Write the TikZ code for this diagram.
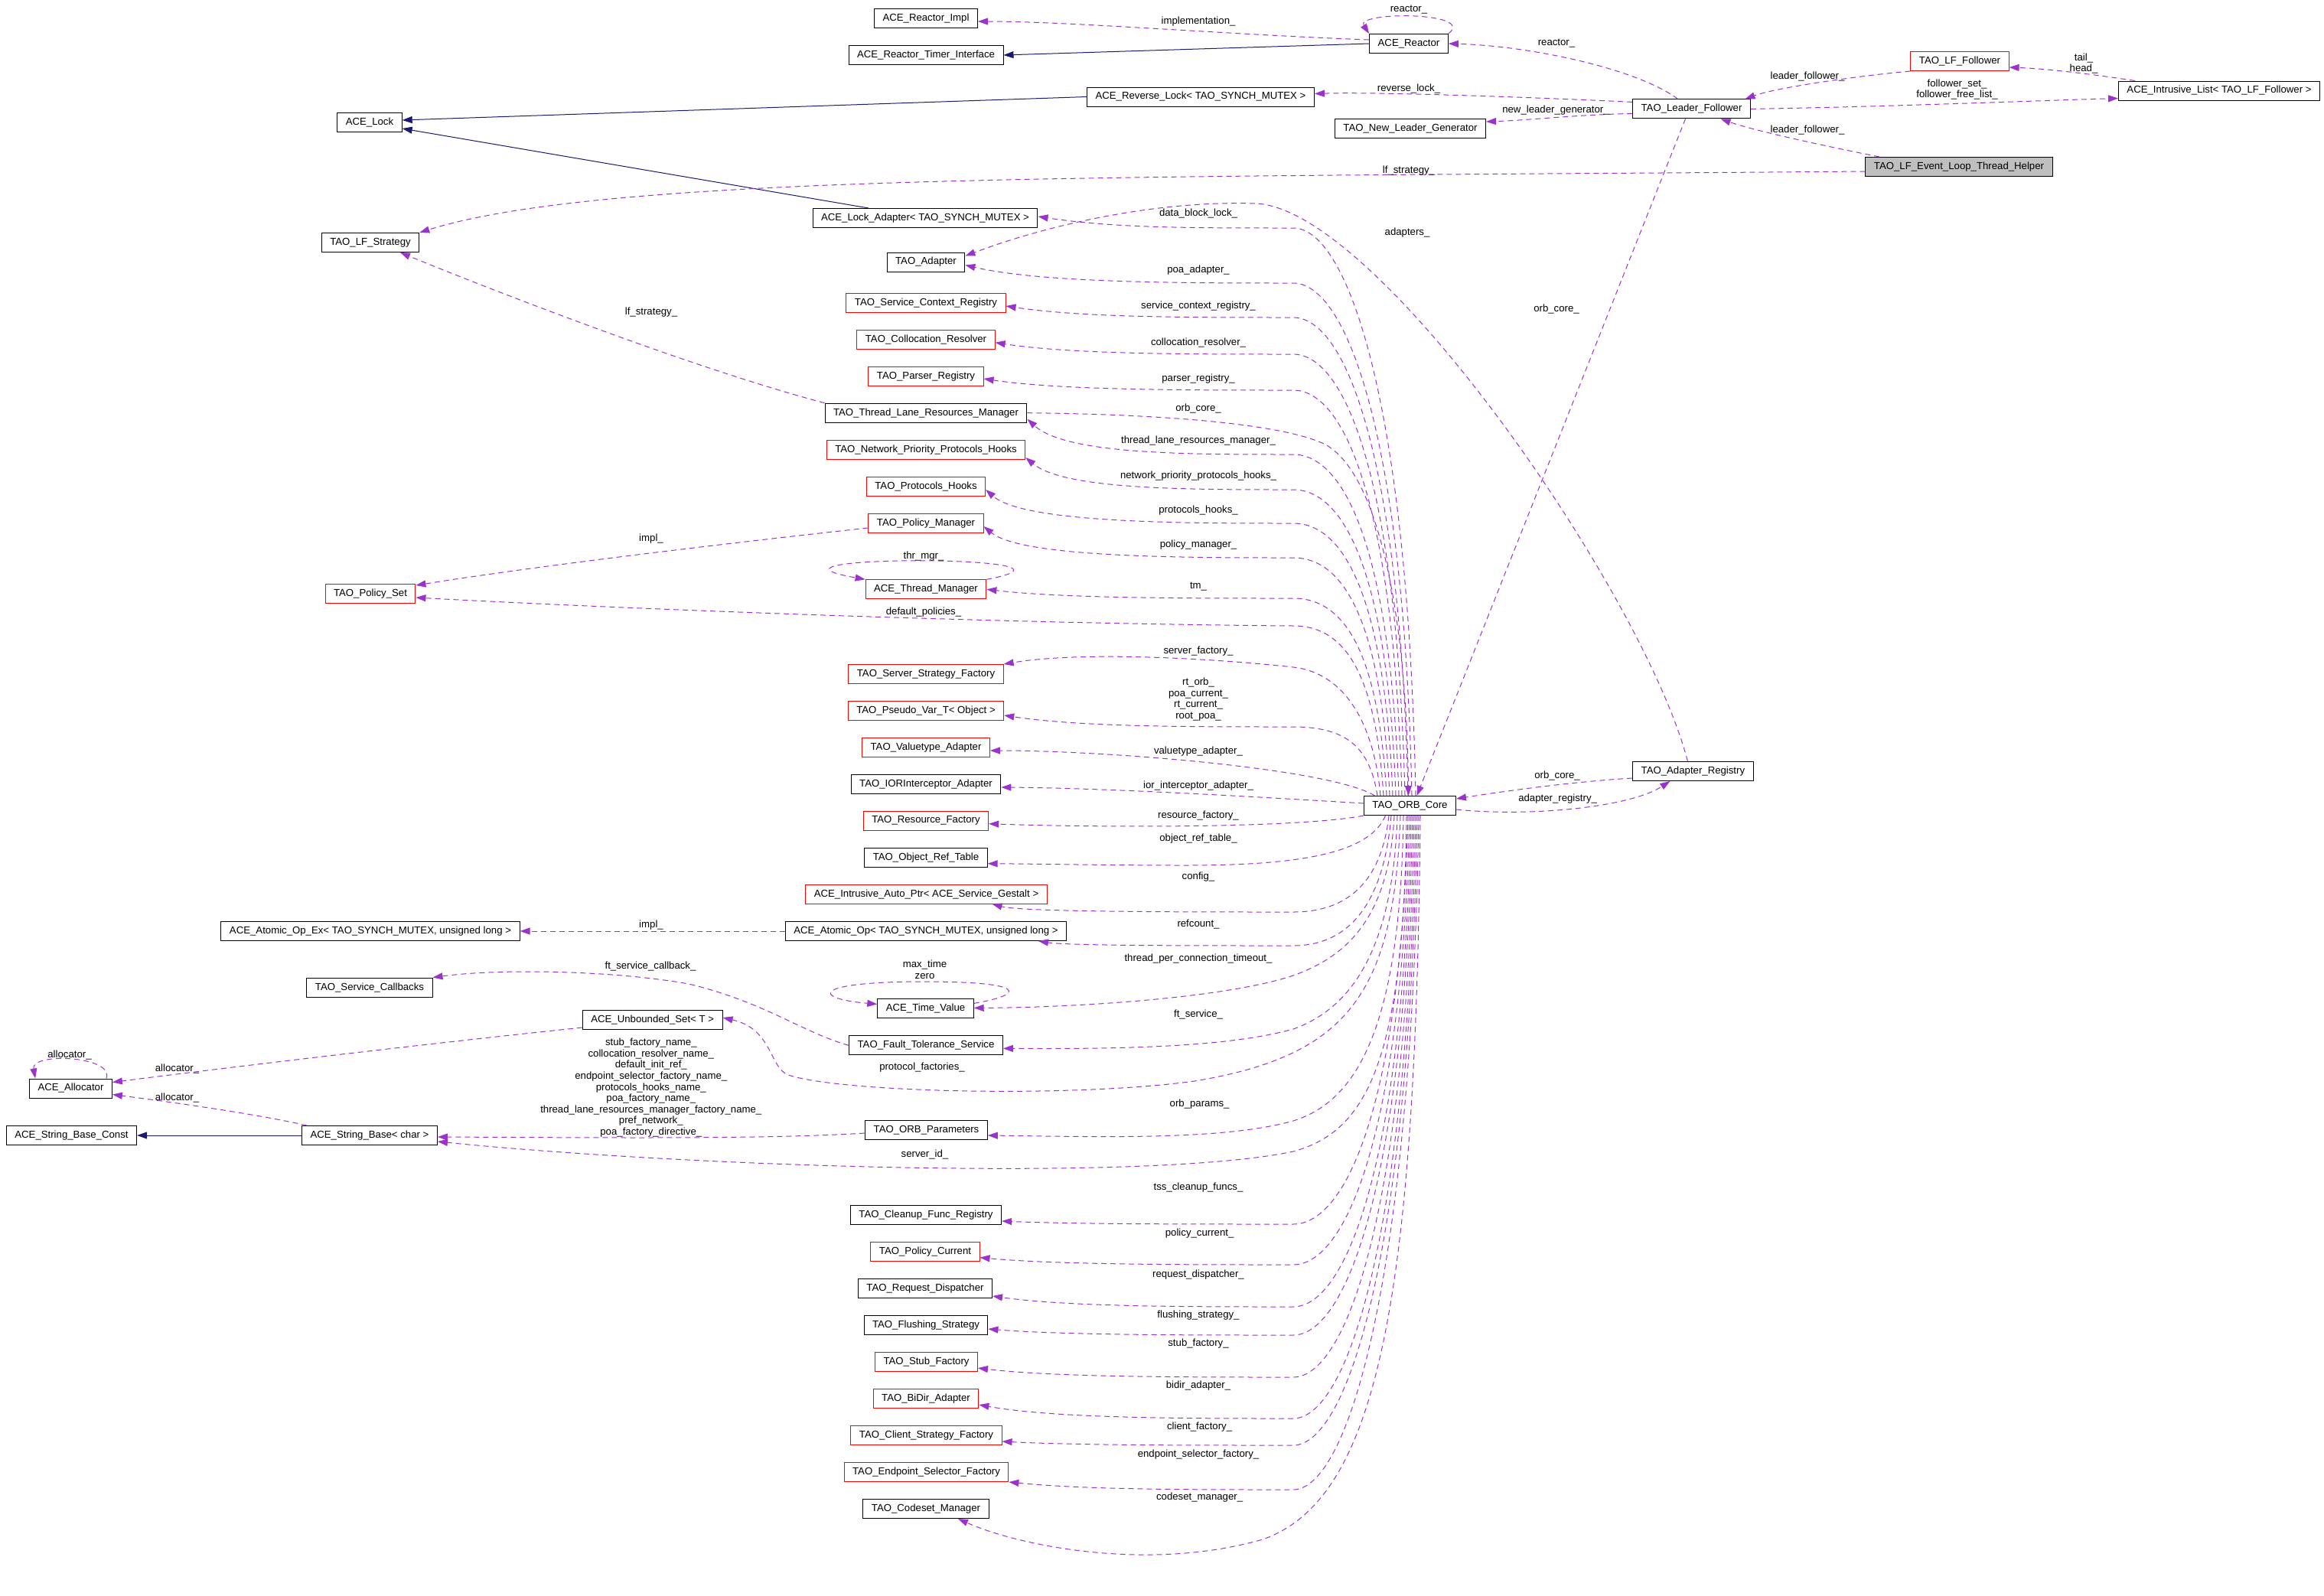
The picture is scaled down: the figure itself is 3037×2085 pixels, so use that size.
\documentclass[tikz,border=0pt]{standalone}
\usepackage{fontspec}
\setmainfont{Liberation Sans}
\usetikzlibrary{arrows.meta,calc,positioning}

\definecolor{edgepurple}{RGB}{154,50,205}
\definecolor{inhblue}{RGB}{25,25,112}
\definecolor{hlgray}{RGB}{191,191,191}
\newcommand{\dgfont}{\fontsize{13.2}{14.6}\selectfont}

\tikzset{
	cls/.style={draw=black, line width=1pt, fill=white, minimum height=25pt, inner xsep=11pt, inner ysep=2pt, font=\dgfont},
	redcls/.style={cls, draw=red},
	hicls/.style={cls, fill=hlgray},
	inh/.style={inhblue, line width=1pt, -{Triangle[length=13pt,width=9pt]}},
	mem/.style={edgepurple, line width=1pt, dash pattern=on 7pt off 5pt, -{Triangle[length=13pt,width=9pt]}},
	lbl/.style={font=\dgfont, inner sep=0pt, align=center}
}

\begin{document}
\begin{tikzpicture}[x=1pt,y=-1pt]
	\useasboundingbox (0,0) rectangle (3037,2085);
	
	% classes
	\node[cls] (reimpl) at (1210,24) {ACE\_Reactor\_Impl};
	\node[cls] (timerif) at (1210,72) {ACE\_Reactor\_Timer\_Interface};
	\node[cls] (reactor) at (1841,57) {ACE\_Reactor};
	\node[cls] (revlock) at (1569,126.5) {ACE\_Reverse\_Lock< TAO\_SYNCH\_MUTEX >};
	\node[cls] (newlead) at (1843,168) {TAO\_New\_Leader\_Generator};
	\node[redcls] (lfollow) at (2561,80) {TAO\_LF\_Follower};
	\node[cls] (ilist) at (2900,118.5) {ACE\_Intrusive\_List< TAO\_LF\_Follower >};
	\node[cls] (leader) at (2210.5,142.4) {TAO\_Leader\_Follower};
	\node[hicls] (helper) at (2560,218) {TAO\_LF\_Event\_Loop\_Thread\_Helper};
	\node[cls] (lock) at (483,160) {ACE\_Lock};
	\node[cls] (lfstrat) at (484,317) {TAO\_LF\_Strategy};
	\node[cls] (lockad) at (1209,285) {ACE\_Lock\_Adapter< TAO\_SYNCH\_MUTEX >};
	\node[cls] (adapter) at (1210,342.5) {TAO\_Adapter};
	\node[redcls] (scr) at (1210,396) {TAO\_Service\_Context\_Registry};
	\node[redcls] (colres) at (1210,443.7) {TAO\_Collocation\_Resolver};
	\node[redcls] (parser) at (1210,492) {TAO\_Parser\_Registry};
	\node[cls] (tlrm) at (1210,539.7) {TAO\_Thread\_Lane\_Resources\_Manager};
	\node[redcls] (nph) at (1210,588) {TAO\_Network\_Priority\_Protocols\_Hooks};
	\node[redcls] (phooks) at (1210,636) {TAO\_Protocols\_Hooks};
	\node[redcls] (polman) at (1210,684) {TAO\_Policy\_Manager};
	\node[redcls] (polset) at (484,776) {TAO\_Policy\_Set};
	\node[redcls] (thrmgr) at (1210,770.3) {ACE\_Thread\_Manager};
	\node[redcls] (ssf) at (1210,881) {TAO\_Server\_Strategy\_Factory};
	\node[redcls] (pseudo) at (1210,929) {TAO\_Pseudo\_Var\_T< Object >};
	\node[redcls] (valad) at (1210,977) {TAO\_Valuetype\_Adapter};
	\node[cls] (iorad) at (1210,1025) {TAO\_IORInterceptor\_Adapter};
	\node[cls] (core) at (1842.5,1053) {TAO\_ORB\_Core};
	\node[cls] (adreg) at (2212.4,1008) {TAO\_Adapter\_Registry};
	\node[redcls] (resfac) at (1210,1072.7) {TAO\_Resource\_Factory};
	\node[cls] (ortab) at (1210,1120.8) {TAO\_Object\_Ref\_Table};
	\node[redcls] (autoptr) at (1210.5,1168.6) {ACE\_Intrusive\_Auto\_Ptr< ACE\_Service\_Gestalt >};
	\node[cls] (atomic) at (1210,1217) {ACE\_Atomic\_Op< TAO\_SYNCH\_MUTEX, unsigned long >};
	\node[cls] (atomicex) at (484,1217) {ACE\_Atomic\_Op\_Ex< TAO\_SYNCH\_MUTEX, unsigned long >};
	\node[cls] (svccb) at (483,1290.6) {TAO\_Service\_Callbacks};
	\node[cls] (timeval) at (1209.5,1318.4) {ACE\_Time\_Value};
	\node[cls] (fts) at (1210,1366.3) {TAO\_Fault\_Tolerance\_Service};
	\node[cls] (uset) at (852.7,1333) {ACE\_Unbounded\_Set< T >};
	\node[cls] (alloc) at (92.5,1422.5) {ACE\_Allocator};
	\node[cls] (sbconst) at (93.5,1484) {ACE\_String\_Base\_Const};
	\node[cls] (sbase) at (483,1484) {ACE\_String\_Base< char >};
	\node[cls] (orbparams) at (1210.5,1477) {TAO\_ORB\_Parameters};
	\node[cls] (cleanup) at (1210,1588) {TAO\_Cleanup\_Func\_Registry};
	\node[redcls] (polcur) at (1209,1635.6) {TAO\_Policy\_Current};
	\node[cls] (reqdisp) at (1209,1684) {TAO\_Request\_Dispatcher};
	\node[cls] (flush) at (1210,1732) {TAO\_Flushing\_Strategy};
	\node[redcls] (stubfac) at (1210.5,1780) {TAO\_Stub\_Factory};
	\node[redcls] (bidir) at (1210,1828) {TAO\_BiDir\_Adapter};
	\node[redcls] (csf) at (1210.5,1876) {TAO\_Client\_Strategy\_Factory};
	\node[redcls] (esf) at (1210.5,1924) {TAO\_Endpoint\_Selector\_Factory};
	\node[cls] (codeset) at (1210,1972) {TAO\_Codeset\_Manager};
	
	% inheritance
	\draw[inh] (reactor.west) -- (timerif.east);
	\draw[inh] (revlock.west) -- ([yshift=3pt]lock.east);
	\draw[inh] ([xshift=-74pt]lockad.north) -- ([yshift=-8pt]lock.east);
	\draw[inh] (sbase.west) -- (sbconst.east);
	
	% reactor and leader/follower
	\draw[mem] ([yshift=5pt]reactor.west) .. controls (1600,45) and (1400,28) .. ([yshift=-4pt]reimpl.east);
	\draw[mem] (reactor.north east) .. controls (1930,15) and (1770,15) .. (reactor.north west);
	\draw[mem] ([xshift=-18pt]leader.north) .. controls (2140,90) and (2000,60) .. (reactor.east);
	\draw[mem] ([yshift=9pt]leader.west) .. controls (2000,127) and (1800,120) .. ([yshift=4pt]revlock.east);
	\draw[mem] ([yshift=-6pt]leader.west) .. controls (2060,150) and (2000,157) .. ([yshift=9pt]newlead.east);
	\draw[mem] (lfollow.south west) .. controls (2420,100) and (2320,115) .. ([xshift=70pt]leader.north);
	\draw[mem] ([xshift=-110pt]ilist.north) .. controls (2740,98) and (2680,90) .. ([yshift=-8pt]lfollow.east);
	\draw[mem] (leader.east) .. controls (2450,140) and (2650,132) .. ([yshift=-10pt]ilist.west);
	\draw[mem] ([xshift=-104pt]helper.north) .. controls (2380,190) and (2290,170) .. ([xshift=38pt]leader.south);
	\draw[mem] ([yshift=-6pt]helper.west) .. controls (1500,232) and (800,225) .. (lfstrat.north east);
	\draw[mem] ([xshift=-8pt]leader.south) -- ([xshift=9pt]core.north);
	\draw[mem] (tlrm.north west) .. controls (900,480) and (620,370) .. ([xshift=39pt]lfstrat.south);
	\draw[mem] (tlrm.east) .. controls (1500,541) and (1670,552) .. (1730,580) .. controls (1800,615) and (1838,800) .. ([xshift=-2pt]core.north);
	
	% adapter registry
	\draw[mem] ([yshift=-9pt]adreg.west) .. controls (2050,1022) and (1960,1035) .. ([yshift=9pt]core.east);
	\draw[mem] ([yshift=-5pt]core.east) .. controls (2000,1068) and (2130,1055) .. ([xshift=-30pt]adreg.south);
	\draw[mem] ([xshift=-7pt]adreg.north) .. controls (2150,780) and (1800,270) .. (1640,266) .. controls (1520,262) and (1380,290) .. ([yshift=8pt]adapter.east);
	
	% orb core, upper members
	\draw[mem] ([xshift=7.5pt]core.north) .. controls (1840,521) and (1760,298) .. (1690,298) .. controls (1550,298) and (1457,298) .. ([yshift=2pt]lockad.east);
	\draw[mem] ([xshift=2.5pt]core.north) .. controls (1835,571) and (1760,370) .. (1690,370) .. controls (1550,370) and (1362,370) .. ([yshift=-4pt]adapter.east);
	\draw[mem] ([xshift=-2.5pt]core.north) .. controls (1830,603) and (1760,415) .. (1690,415) .. controls (1550,415) and (1415,415) .. ([yshift=-4pt]scr.east);
	\draw[mem] ([xshift=-6.5pt]core.north) .. controls (1826,636) and (1760,463) .. (1690,463) .. controls (1550,463) and (1400,463) .. ([yshift=-4pt]colres.east);
	\draw[mem] ([xshift=-10.5pt]core.north) .. controls (1822,669) and (1760,510) .. (1690,510) .. controls (1550,510) and (1385,510) .. ([yshift=-3pt]parser.east);
	\draw[mem] ([xshift=-14.5pt]core.north) .. controls (1818,728) and (1760,594) .. (1690,594) .. controls (1550,594) and (1393,594) .. ([yshift=-8pt]tlrm.east);
	\draw[mem] ([xshift=-18.5pt]core.north) .. controls (1814,760) and (1760,640) .. (1690,640) .. controls (1550,640) and (1391,640) .. ([yshift=-10pt]nph.east);
	\draw[mem] ([xshift=-22.5pt]core.north) .. controls (1810,791) and (1760,684) .. (1690,684) .. controls (1550,684) and (1338,684) .. ([yshift=-4pt]phooks.east);
	\draw[mem] ([xshift=-26.5pt]core.north) .. controls (1806,822) and (1760,729) .. (1690,729) .. controls (1550,729) and (1335,729) .. ([yshift=-4pt]polman.east);
	\draw[mem] ([xshift=-30.5pt]core.north) .. controls (1802,859) and (1760,782) .. (1690,782) .. controls (1550,782) and (1390,782) .. (thrmgr.east);
	\draw[mem] ([xshift=-34.5pt]core.north) .. controls (1798,885) and (1760,818) .. (1690,818) .. controls (1300,815) and (800,795) .. ([yshift=-5pt]polset.east);
	\draw[mem] ([xshift=-38.5pt]core.north) .. controls (1796,950) and (1760,880) .. (1690,872) .. controls (1600,862) and (1420,850) .. (ssf.north east);
	\draw[mem] ([xshift=-42.5pt]core.north) .. controls (1790,977) and (1760,950) .. (1690,950) .. controls (1550,950) and (1412,950) .. ([yshift=-6pt]pseudo.east);
	\draw[mem] ([xshift=-46pt]core.north) .. controls (1740,1005) and (1450,981) .. ([yshift=-4pt]valad.east);
	\draw[mem] ([yshift=3pt]core.west) .. controls (1650,1042) and (1450,1030) .. ([yshift=-4pt]iorad.east);
	\draw[mem] (core.south west) .. controls (1700,1082) and (1450,1082) .. ([yshift=-4pt]resfac.east);
	\draw[mem] ([xshift=-32pt]core.south) .. controls (1790,1115) and (1700,1131) .. (1550,1131) .. controls (1450,1131) and (1350,1129) .. ([yshift=-8pt]ortab.east);
	
	% orb core, lower members
	\draw[mem] ([xshift=-27.5pt]core.south) .. controls (1805,1154) and (1760,1192) .. (1690,1192) .. controls (1550,1192) and (1336,1192) .. ([xshift=86pt]autoptr.south);
	\draw[mem] ([xshift=-24.5pt]core.south) .. controls (1808,1185) and (1760,1236) .. (1690,1236) .. controls (1550,1236) and (1397,1236) .. ([xshift=147pt]atomic.south);
	\draw[mem] ([xshift=-20.5pt]core.south) .. controls (1815,1200) and (1760,1250) .. (1690,1275) .. controls (1600,1305) and (1400,1317) .. ([yshift=1pt]timeval.east);
	\draw[mem] ([xshift=-16.5pt]core.south) .. controls (1820,1250) and (1760,1320) .. (1690,1345) .. controls (1600,1370) and (1450,1371) .. ([yshift=-4pt]fts.east);
	\draw[mem] ([xshift=-12.5pt]core.south) .. controls (1822,1300) and (1760,1380) .. (1561,1413) .. controls (1400,1435) and (1100,1428) .. (1030,1405) .. controls (1005,1395) and (1010,1345) .. ([yshift=3pt]uset.east);
	\draw[mem] ([xshift=-8.5pt]core.south) .. controls (1830,1350) and (1770,1440) .. (1690,1465) .. controls (1600,1490) and (1450,1486) .. ([yshift=-7pt]orbparams.east);
	\draw[mem] ([xshift=-4.5pt]core.south) .. controls (1835,1400) and (1780,1480) .. (1690,1505) .. controls (1500,1545) and (900,1525) .. ([yshift=-8pt]sbase.east);
	\draw[mem] ([xshift=-2.5pt]core.south) .. controls (1830,1440) and (1760,1600) .. (1690,1600) .. controls (1550,1600) and (1409,1600) .. ([yshift=-8pt]cleanup.east);
	\draw[mem] ([xshift=-0.5pt]core.south) .. controls (1832,1477) and (1760,1653) .. (1690,1653) .. controls (1550,1653) and (1381,1653) .. ([yshift=-8pt]polcur.east);
	\draw[mem] ([xshift=1.5pt]core.south) .. controls (1834,1515) and (1760,1708) .. (1690,1708) .. controls (1550,1708) and (1397,1708) .. ([yshift=-10pt]reqdisp.east);
	\draw[mem] ([xshift=3.5pt]core.south) .. controls (1836,1541) and (1760,1745) .. (1690,1745) .. controls (1550,1745) and (1392,1745) .. ([yshift=-5pt]flush.east);
	\draw[mem] ([xshift=5.5pt]core.south) .. controls (1838,1580) and (1760,1800) .. (1690,1800) .. controls (1550,1800) and (1377,1800) .. ([yshift=-8pt]stubfac.east);
	\draw[mem] ([xshift=7.5pt]core.south) .. controls (1840,1618) and (1760,1854) .. (1690,1854) .. controls (1550,1854) and (1379,1854) .. ([yshift=-8pt]bidir.east);
	\draw[mem] ([xshift=9.5pt]core.south) .. controls (1842,1642) and (1760,1889) .. (1690,1889) .. controls (1550,1889) and (1409,1889) .. ([yshift=-8pt]csf.east);
	\draw[mem] ([xshift=11.5pt]core.south) .. controls (1844,1683) and (1760,1947) .. (1690,1947) .. controls (1550,1947) and (1419,1947) .. ([yshift=-13pt]esf.east);
	\draw[mem] ([xshift=13.5pt]core.south) .. controls (1850,1700) and (1800,1960) .. (1650,2012) .. controls (1500,2055) and (1330,2020) .. ([xshift=42pt]codeset.south);
	
	% left side members
	\draw[mem] ([yshift=-6pt]polman.west) .. controls (950,710) and (700,740) .. ([yshift=11pt]polset.east);
	\draw[mem] (thrmgr.north east) .. controls (1460,725) and (950,725) .. (thrmgr.north west);
	\draw[mem] (atomic.west) -- (atomicex.east);
	\draw[mem] ([yshift=7pt]timeval.east) .. controls (1340,1300) and (1345,1283) .. (1207,1283) .. controls (1060,1283) and (1060,1305) .. ([yshift=6pt]timeval.west);
	\draw[mem] (fts.west) .. controls (1050,1350) and (1000,1310) .. (900,1286) .. controls (800,1268) and (650,1266) .. (svccb.north east);
	\draw[mem] ([yshift=-10pt]uset.west) .. controls (550,1365) and (300,1395) .. ([yshift=8pt]alloc.east);
	\draw[mem] ([xshift=-8pt]alloc.north east) .. controls (150,1380) and (40,1375) .. ([xshift=8pt]alloc.north west);
	\draw[mem] ([xshift=7pt]sbase.north west) .. controls (330,1455) and (220,1440) .. ([yshift=-8pt]alloc.east);
	\draw[mem] ([yshift=-4pt]orbparams.west) .. controls (1000,1489) and (800,1487) .. ([yshift=-2pt]sbase.east);
	
	% labels
	\node[lbl] (limpl) at (1566,28) {implementation\_};
	\node[lbl] (lreact) at (1841,12.5) {reactor\_};
	\node[lbl] (lreact2) at (2034,57) {reactor\_};
	\node[lbl] (lrevlock) at (1841,116.5) {reverse\_lock\_};
	\node[lbl] (lnewlead) at (2033,144) {new\_leader\_generator\_};
	\node[lbl] (llf1) at (2362,100.5) {leader\_follower\_};
	\node[lbl] (ltail) at (2723,83) {tail\_\\head\_};
	\node[lbl] (lfset) at (2557.5,117) {follower\_set\_\\follower\_free\_list\_};
	\node[lbl] (llf2) at (2362,170.5) {leader\_follower\_};
	\node[lbl] (llfs1) at (1841,223) {lf\_strategy\_};
	\node[lbl] (llfs2) at (851,408.5) {lf\_strategy\_};
	\node[lbl] (ldbl) at (1566,278.6) {data\_block\_lock\_};
	\node[lbl] (ladapters) at (1839,304.5) {adapters\_};
	\node[lbl] (lorb1) at (2034,404.5) {orb\_core\_};
	\node[lbl] (lpoa) at (1566,352.7) {poa\_adapter\_};
	\node[lbl] (lscr) at (1566,400.4) {service\_context\_registry\_};
	\node[lbl] (lcolres) at (1566,448) {collocation\_resolver\_};
	\node[lbl] (lparser) at (1566,494.6) {parser\_registry\_};
	\node[lbl] (lorb2) at (1566,534.4) {orb\_core\_};
	\node[lbl] (ltlrm) at (1566,576.3) {thread\_lane\_resources\_manager\_};
	\node[lbl] (lnph) at (1566,622.3) {network\_priority\_protocols\_hooks\_};
	\node[lbl] (lphooks) at (1566,667.4) {protocols\_hooks\_};
	\node[lbl] (limpl2) at (851,704) {impl\_};
	\node[lbl] (lpolman) at (1566,712.5) {policy\_manager\_};
	\node[lbl] (lthr) at (1207,727) {thr\_mgr\_};
	\node[lbl] (ltm) at (1566,767) {tm\_};
	\node[lbl] (ldefpol) at (1207,800.4) {default\_policies\_};
	\node[lbl] (lssf) at (1566,851) {server\_factory\_};
	\node[lbl] (lpseudo) at (1566,914) {rt\_orb\_\\poa\_current\_\\rt\_current\_\\root\_poa\_};
	\node[lbl] (lvalad) at (1566,982) {valuetype\_adapter\_};
	\node[lbl] (lior) at (1566,1027) {ior\_interceptor\_adapter\_};
	\node[lbl] (lorb3) at (2035,1014.5) {orb\_core\_};
	\node[lbl] (ladreg) at (2035.6,1044.3) {adapter\_registry\_};
	\node[lbl] (lresfac) at (1566,1066) {resource\_factory\_};
	\node[lbl] (lortab) at (1566,1096) {object\_ref\_table\_};
	\node[lbl] (lconfig) at (1566,1146.4) {config\_};
	\node[lbl] (lrefc) at (1566,1207.6) {refcount\_};
	\node[lbl] (limpl3) at (851,1209) {impl\_};
	\node[lbl] (ltpct) at (1566,1252.7) {thread\_per\_connection\_timeout\_};
	\node[lbl] (lmaxt) at (1208.5,1267) {max\_time\\zero};
	\node[lbl] (lftcb) at (850,1263.4) {ft\_service\_callback\_};
	\node[lbl] (lft) at (1566,1326) {ft\_service\_};
	\node[lbl] (lalloc1) at (91,1379) {allocator\_};
	\node[lbl] (lprotf) at (1205,1395) {protocol\_factories\_};
	\node[lbl] (lalloc2) at (231.5,1397.3) {allocator\_};
	\node[lbl] (lstrs) at (850.8,1421.7) {stub\_factory\_name\_\\collocation\_resolver\_name\_\\default\_init\_ref\_\\endpoint\_selector\_factory\_name\_\\protocols\_hooks\_name\_\\poa\_factory\_name\_\\thread\_lane\_resources\_manager\_factory\_name\_\\pref\_network\_\\poa\_factory\_directive\_};
	\node[lbl] (lalloc3) at (231.5,1435) {allocator\_};
	\node[lbl] (lorbp) at (1567.6,1442.8) {orb\_params\_};
	\node[lbl] (lsid) at (1208.5,1508.8) {server\_id\_};
	\node[lbl] (ltss) at (1566,1551.6) {tss\_cleanup\_funcs\_};
	\node[lbl] (lpolcur) at (1567.6,1612) {policy\_current\_};
	\node[lbl] (lreqd) at (1566,1666.5) {request\_dispatcher\_};
	\node[lbl] (lflush) at (1566,1719.4) {flushing\_strategy\_};
	\node[lbl] (lstub) at (1566,1755.6) {stub\_factory\_};
	\node[lbl] (lbidir) at (1566,1811.5) {bidir\_adapter\_};
	\node[lbl] (lcsf) at (1567.6,1864.8) {client\_factory\_};
	\node[lbl] (lesf) at (1566,1900.6) {endpoint\_selector\_factory\_};
	\node[lbl] (lcodes) at (1567.6,1956.6) {codeset\_manager\_};
\end{tikzpicture}
\end{document}
